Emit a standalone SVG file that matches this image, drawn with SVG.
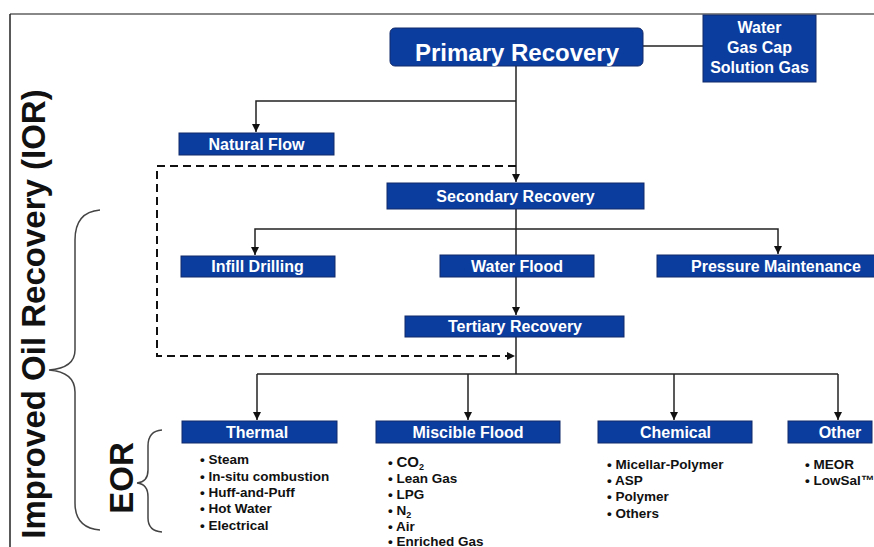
<svg xmlns="http://www.w3.org/2000/svg" width="874" height="547" viewBox="0 0 874 547">
<style>
.box{fill:#0b3d9f;stroke:#132a6a;stroke-width:1}
.lbl{font-family:"Liberation Sans",Arial,sans-serif;font-weight:bold;font-size:16px;fill:#ffffff;text-anchor:middle}
.bul{font-family:"Liberation Sans",Arial,sans-serif;font-weight:bold;font-size:13.5px;fill:#111111}
.big{font-family:"Liberation Sans",Arial,sans-serif;font-weight:bold;font-size:33px;fill:#111111;text-anchor:middle}
.ln{fill:none;stroke:#222222;stroke-width:1.5}
.dash{fill:none;stroke:#111111;stroke-width:2;stroke-dasharray:8 5}
.brace{fill:none;stroke:#444444;stroke-width:1.5}
</style>
<defs>
<marker id="arr" markerUnits="userSpaceOnUse" markerWidth="9" markerHeight="9" refX="8" refY="4" orient="auto">
<path d="M0,0 L8,4 L0,8 z" fill="#111111"/>
</marker>
</defs>
<rect x="0" y="0" width="874" height="547" fill="#ffffff"/>
<line x1="10" y1="14" x2="874" y2="14" stroke="#888888" stroke-width="2"/>
<line x1="10" y1="14" x2="10" y2="547" stroke="#222222" stroke-width="1.5"/>

<g id="connectors">
<line class="ln" x1="643" y1="46" x2="703" y2="46"/>
<path class="ln" d="M516,66 L516,182" marker-end="url(#arr)"/>
<path class="ln" d="M516,101 L256,101 L256,132" marker-end="url(#arr)"/>
<path class="ln" d="M516,209 L516,315" marker-end="url(#arr)"/>
<path class="ln" d="M516,229 L255,229 L255,255" marker-end="url(#arr)"/>
<path class="ln" d="M516,229 L778,229 L778,254" marker-end="url(#arr)"/>
<path class="ln" d="M516,337 L516,374"/>
<path class="ln" d="M257,374 L838,374"/>
<path class="ln" d="M257,374 L257,420" marker-end="url(#arr)"/>
<path class="ln" d="M468,374 L468,420" marker-end="url(#arr)"/>
<path class="ln" d="M674,374 L674,420" marker-end="url(#arr)"/>
<path class="ln" d="M838,374 L838,420" marker-end="url(#arr)"/>
<path class="dash" d="M516,166 L157,166 L157,356 L508,356"/>
<path d="M507,352 L515,356 L507,360 z" fill="#111111"/>
</g>

<g id="primary">
<rect class="box" x="390" y="28" width="253" height="38" rx="5"/>
<text class="lbl" x="517" y="60.5" style="font-size:24px">Primary Recovery</text>
</g>
<g id="drive">
<rect class="box" x="703" y="15" width="113" height="67"/>
<text class="lbl" x="759.5" y="33">Water</text>
<text class="lbl" x="759.5" y="53">Gas Cap</text>
<text class="lbl" x="759.5" y="73">Solution Gas</text>
</g>
<g id="natural-flow">
<rect class="box" x="179" y="133" width="155" height="22"/>
<text class="lbl" x="256.5" y="149.5">Natural Flow</text>
</g>
<g id="secondary">
<rect class="box" x="387" y="183" width="257" height="26"/>
<text class="lbl" x="515.5" y="201.5">Secondary Recovery</text>
</g>
<g id="infill">
<rect class="box" x="181" y="256" width="154" height="21"/>
<text class="lbl" x="257.5" y="272">Infill Drilling</text>
</g>
<g id="waterflood">
<rect class="box" x="440" y="255" width="154" height="22"/>
<text class="lbl" x="517" y="271.5">Water Flood</text>
</g>
<g id="pressure">
<rect class="box" x="657" y="255" width="220" height="22"/>
<text class="lbl" x="776" y="271.5">Pressure Maintenance</text>
</g>
<g id="tertiary">
<rect class="box" x="405" y="316" width="219" height="21"/>
<text class="lbl" x="515" y="332">Tertiary Recovery</text>
</g>
<g id="thermal">
<rect class="box" x="182" y="421" width="155" height="22"/>
<text class="lbl" x="257" y="437.5">Thermal</text>
<text class="bul" x="200" y="464">• Steam</text>
<text class="bul" x="200" y="480.5">• In-situ combustion</text>
<text class="bul" x="200" y="497">• Huff-and-Puff</text>
<text class="bul" x="200" y="513">• Hot Water</text>
<text class="bul" x="200" y="529.5">• Electrical</text>
</g>
<g id="miscible">
<rect class="box" x="376" y="421" width="184" height="22"/>
<text class="lbl" x="468" y="437.5">Miscible Flood</text>
<text class="bul" x="388" y="467">• <tspan style="font-size:15px">CO</tspan><tspan style="font-size:9px" dy="3">2</tspan></text>
<text class="bul" x="388" y="483">• Lean Gas</text>
<text class="bul" x="388" y="499">• LPG</text>
<text class="bul" x="388" y="515">• N<tspan style="font-size:9px" dy="3">2</tspan></text>
<text class="bul" x="388" y="531">• Air</text>
<text class="bul" x="388" y="545.5">• Enriched Gas</text>
</g>
<g id="chemical">
<rect class="box" x="598" y="421" width="154" height="22"/>
<text class="lbl" x="675.5" y="437.5">Chemical</text>
<text class="bul" x="607" y="468.5">• Micellar-Polymer</text>
<text class="bul" x="607" y="484.5">• ASP</text>
<text class="bul" x="607" y="501">• Polymer</text>
<text class="bul" x="607" y="518">• Others</text>
</g>
<g id="other">
<rect class="box" x="788" y="421" width="84" height="22"/>
<text class="lbl" x="840" y="437.5">Other</text>
<text class="bul" x="805" y="468.5">• MEOR</text>
<text class="bul" x="805" y="484.5">• LowSal™</text>
</g>
<g id="ior">
<text class="big" transform="translate(45,314) rotate(-90)">Improved Oil Recovery (IOR)</text>
<path class="brace" d="M100,210 Q75,212 75,240 L75,350 Q75,368 49,370 Q75,372 75,392 L75,503 Q75,528 100,530"/>
</g>
<g id="eor">
<text class="big" transform="translate(133,478) rotate(-90)">EOR</text>
<path class="brace" d="M162,430 Q148,431 148,446 L148,470 Q148,482 137,483 Q148,484 148,497 L148,518 Q148,531 162,532"/>
</g>
</svg>
